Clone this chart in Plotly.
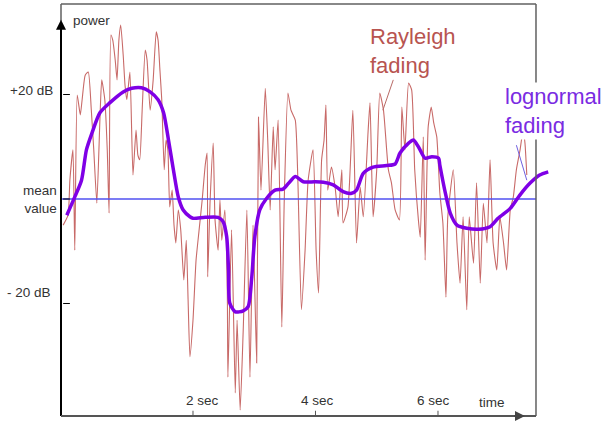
import plotly.graph_objects as go

# ---- data (time in seconds, power in dB relative to mean) ----
t_ray = [-0.12, -0.04, -0.01, 0.04, 0.07, 0.11, 0.16, 0.19, 0.24, 0.29, 0.34, 0.38, 0.43, 0.48, 0.51,
         0.56, 0.60, 0.63, 0.66, 0.69, 0.73, 0.76, 0.79, 0.82, 0.86, 0.89, 0.92, 0.97, 1.02, 1.07,
         1.10, 1.13, 1.17, 1.22, 1.25, 1.30, 1.35, 1.40, 1.43, 1.46, 1.49, 1.53, 1.56, 1.59, 1.62,
         1.66, 1.69, 1.72, 1.76, 1.80, 1.85,
         1.89, 1.92, 1.95, 2.00, 2.05, 2.10, 2.15, 2.20, 2.23, 2.24, 2.28, 2.33, 2.36, 2.41, 2.44,
         2.47, 2.52, 2.56, 2.57, 2.63, 2.69, 2.72, 2.77, 2.82, 2.88, 2.93, 2.98, 3.04, 3.07, 3.11,
         3.18, 3.22, 3.26, 3.31, 3.34, 3.39, 3.45, 3.49, 3.55, 3.60, 3.67, 3.71, 3.77, 3.83, 3.88,
         3.96, 4.01, 4.05, 4.10, 4.14, 4.17, 4.20, 4.26, 4.32, 4.37, 4.43, 4.45, 4.53, 4.61, 4.67,
         4.73, 4.78, 4.86, 4.89, 4.94, 5.00, 5.05, 5.11, 5.19, 5.24, 5.30, 5.37, 5.41, 5.46, 5.52,
         5.57, 5.62, 5.68, 5.71, 5.76, 5.79, 5.84,
         5.89, 5.93, 5.98, 6.03, 6.08, 6.13, 6.16, 6.25, 6.31, 6.36, 6.41, 6.47, 6.51, 6.58, 6.63,
         6.69, 6.74, 6.80, 6.85, 6.90, 6.96, 7.01, 7.07, 7.12, 7.18, 7.23, 7.28, 7.34, 7.39, 7.42, 7.45]
db_ray = [-5.0, -3.1, 3.6, 9.4, -9.8, 19.9, 16.1, 19.0, 23.7, 24.3, 17.0, 9.4, -0.8, 15.1, 22.8,
          19.0, 9.4, -2.7, 31.4, 30.4, 26.6, 22.8, 30.4, 33.3, 27.6, 21.8, 19.0, 24.3, 4.6, 13.2,
          8.4, 7.5, 17.0, 28.5, 26.6, 17.0, 22.8, 32.0, 30.4, 24.7, 19.0, 5.6, 11.3, 9.4, -1.5,
          1.7, -5.0, -8.4, -2.1, -5.9, -15.5,
          -7.9, -19.3, -30.2, -23.2, -11.7, -5.9, -0.2, 6.5, 8.8, -14.9, -0.2, 10.7, -4.0, -9.8, -0.2,
          -7.9, -2.1, -17.4, -34.1, -5.9, -37.1, -23.2, -40.4, -25.1, -2.1, -34.1, -5.0, -31.4, 15.7, 1.7,
          21.2, 11.3, -2.1, 13.8, 5.6, 15.1, -24.5, -0.2, 20.3, 17.0, 15.1, 4.6, -21.2, -9.8, 3.6,
          9.4, -9.8, -18.0, 7.5, 11.3, 18.0, 1.7, 6.1, 2.3, -3.4, 5.6, -4.6, -1.5, 17.0, -8.4,
          2.3, -3.4, 13.2, 18.4, -3.4, 5.6, 20.3, 17.0, 5.6, 3.1, -2.1, -4.0, 17.6, 9.4, 22.2,
          20.9, 5.6, -4.0, -7.3, 11.9, -11.7, 13.8,
          17.6, 14.6, 11.9, 1.2, -4.6, -18.8, -3.4, 5.6, -8.4, -16.1, -3.4, -21.2, -3.4, -12.3, 3.1,
          -16.1, -0.8, -8.4, 7.5, -8.4, -13.6, -3.4, -8.4, -13.6, -2.1, 0.4, 5.6, 9.4, 13.2, 10.7, 4.6]

t_log = [-0.06, 0.07, 0.18, 0.26, 0.35, 0.48, 0.64, 0.86, 1.00, 1.16, 1.30, 1.43, 1.52, 1.60, 1.68,
         1.76, 1.84, 1.95, 2.00, 2.20, 2.41, 2.49, 2.55, 2.58, 2.60, 2.69, 2.82, 2.90, 2.96, 3.01,
         3.09, 3.20, 3.34, 3.47, 3.56, 3.67, 3.80, 3.99, 4.13, 4.29, 4.45, 4.59, 4.67, 4.78, 4.94,
         5.16, 5.30, 5.38, 5.52, 5.60, 5.68, 5.79, 5.90, 6.01, 6.03, 6.11, 6.20, 6.31, 6.47, 6.66,
         6.85, 6.98, 7.18, 7.34, 7.50, 7.66, 7.80]
db_log = [-3.1, 0.4, 3.6, 9.4, 12.6, 16.5, 18.4, 20.5, 21.2, 21.3, 20.5, 19.0, 16.5, 11.3, 5.6,
          0.4, -2.1, -3.4, -3.7, -3.5, -3.5, -4.3, -7.2, -13.6, -19.9, -21.6, -21.4, -20.6, -14.9, -7.2,
          -2.1, 0.1, 1.7, 1.9, 3.0, 4.3, 3.3, 3.3, 3.2, 2.7, 1.4, 1.1, 1.7, 4.9, 6.1,
          6.4, 6.7, 8.8, 10.7, 11.3, 10.0, 7.8, 8.1, 7.8, 6.5, 1.7, -2.7, -5.0, -5.6, -5.8,
          -5.3, -3.7, -1.8, 0.8, 3.0, 4.6, 5.2]

mean_level = 0.0
y_tick_vals = [20, 0, -20]
y_tick_text = ["+20 dB", "mean<br>value", "- 20 dB"]
x_tick_vals = [2, 4, 6]
x_tick_text = ["2 sec", "4 sec", "6 sec"]

# ---- frame geometry in axis units ----
X0, X1 = -0.155, 7.60     # left axis / right border
Y0, Y1 = -41.53, 37.32    # bottom axis / top border

FONT = "Arial, Liberation Sans, sans-serif"
RAY_C = "#C86A68"
LOG_C = "#7F00E6"
TXT_C = "#333333"

fig = go.Figure()
fig.add_trace(go.Scatter(x=t_ray, y=db_ray, mode="lines",
                         line=dict(color=RAY_C, width=1.1, shape="spline", smoothing=0.5),
                         hoverinfo="skip"))
fig.add_trace(go.Scatter(x=[X0, X1], y=[mean_level, mean_level], mode="lines",
                         line=dict(color="#5050F0", width=1.5), hoverinfo="skip"))
fig.add_trace(go.Scatter(x=t_log, y=db_log, mode="lines",
                         line=dict(color=LOG_C, width=3.5, shape="spline", smoothing=0.7),
                         hoverinfo="skip"))

shapes = []
# frame (top + right)
shapes.append(dict(type="line", x0=X0, x1=X1, y0=Y1, y1=Y1, line=dict(color="#606060", width=1.5)))
shapes.append(dict(type="line", x0=X1, x1=X1, y0=Y0, y1=Y1, line=dict(color="#606060", width=1.5)))
shapes.append(dict(type="line", x0=X0, x1=X0, y0=34.0, y1=Y1, line=dict(color="#606060", width=1.5)))
# axes
shapes.append(dict(type="line", x0=X0, x1=X0, y0=Y0, y1=33.5, line=dict(color="black", width=2)))
shapes.append(dict(type="line", x0=X0, x1=X1, y0=Y0, y1=Y0, line=dict(color="#555555", width=2)))
# y ticks
for v in y_tick_vals:
    shapes.append(dict(type="line", x0=-0.12, x1=-0.01, y0=v, y1=v, line=dict(color="black", width=1)))
# x ticks
for v in x_tick_vals:
    shapes.append(dict(type="line", x0=v, x1=v, y0=Y0, y1=Y0 + 1.0, line=dict(color="#555555", width=1)))
# leader lines
shapes.append(dict(type="line", x0=5.27, x1=5.10, y0=22.8, y1=17.0, line=dict(color="#B86A66", width=1)))
shapes.append(dict(type="line", x0=7.28, x1=7.45, y0=10.3, y1=3.6, line=dict(color="#7060E0", width=1)))

ann = []
# arrowheads
ann.append(dict(x=X0, y=34.3, xref="x", yref="y", text="", showarrow=True, ax=0, ay=12,
                arrowhead=2, arrowsize=1, arrowwidth=2, arrowcolor="black"))
ann.append(dict(x=7.42, y=Y0, xref="x", yref="y", text="", showarrow=True, ax=-12, ay=0,
                arrowhead=2, arrowsize=1, arrowwidth=2, arrowcolor="#444444"))
# axis labels
ann.append(dict(x=0.0, y=34.1, xref="x", yref="y", text="power", showarrow=False,
                xanchor="left", yanchor="middle", font=dict(family=FONT, size=13.5, color=TXT_C)))
ann.append(dict(x=6.88, y=-39.0, xref="x", yref="y", text="time", showarrow=False,
                xanchor="center", yanchor="middle", font=dict(family=FONT, size=13.5, color=TXT_C)))
y_lab_pos = [20.7, 0.0, -17.8]
y_lab_right = [55, 59, 53]
for txt, yv, xr in zip(y_tick_text, y_lab_pos, y_lab_right):
    ann.append(dict(x=(xr - 55) / 505, y=yv, xref="paper", yref="y", text=txt, showarrow=False,
                    xanchor="right", yanchor="middle", align="right",
                    font=dict(family=FONT, size=13.5, color=TXT_C)))
x_lab_pos = [2.16, 4.04, 5.92]
for txt, xv in zip(x_tick_text, x_lab_pos):
    ann.append(dict(x=xv, y=-38.5, xref="x", yref="y", text=txt, showarrow=False,
                    xanchor="center", yanchor="middle", font=dict(family=FONT, size=13.5, color=TXT_C)))
# series labels
ann.append(dict(x=4.86, y=28.3, xref="x", yref="y", text="Rayleigh<br>fading", showarrow=False,
                xanchor="left", yanchor="middle", align="left",
                font=dict(family=FONT, size=22, color="#B85450")))
ann.append(dict(x=7.06, y=16.75, xref="x", yref="y", text="lognormal<br>fading", showarrow=False,
                xanchor="left", yanchor="middle", align="left", bgcolor="white", borderpad=1,
                font=dict(family=FONT, size=22, color="#7A2BE2")))

fig.update_layout(
    width=604, height=422,
    margin=dict(l=55, r=44, t=0, b=2),
    paper_bgcolor="white", plot_bgcolor="white",
    showlegend=False,
    xaxis=dict(range=[-0.253, 7.992], visible=False, fixedrange=True),
    yaxis=dict(range=[-42.30, 38.09], visible=False, fixedrange=True),
    shapes=shapes, annotations=ann,
)

fig.write_html("out.html")
